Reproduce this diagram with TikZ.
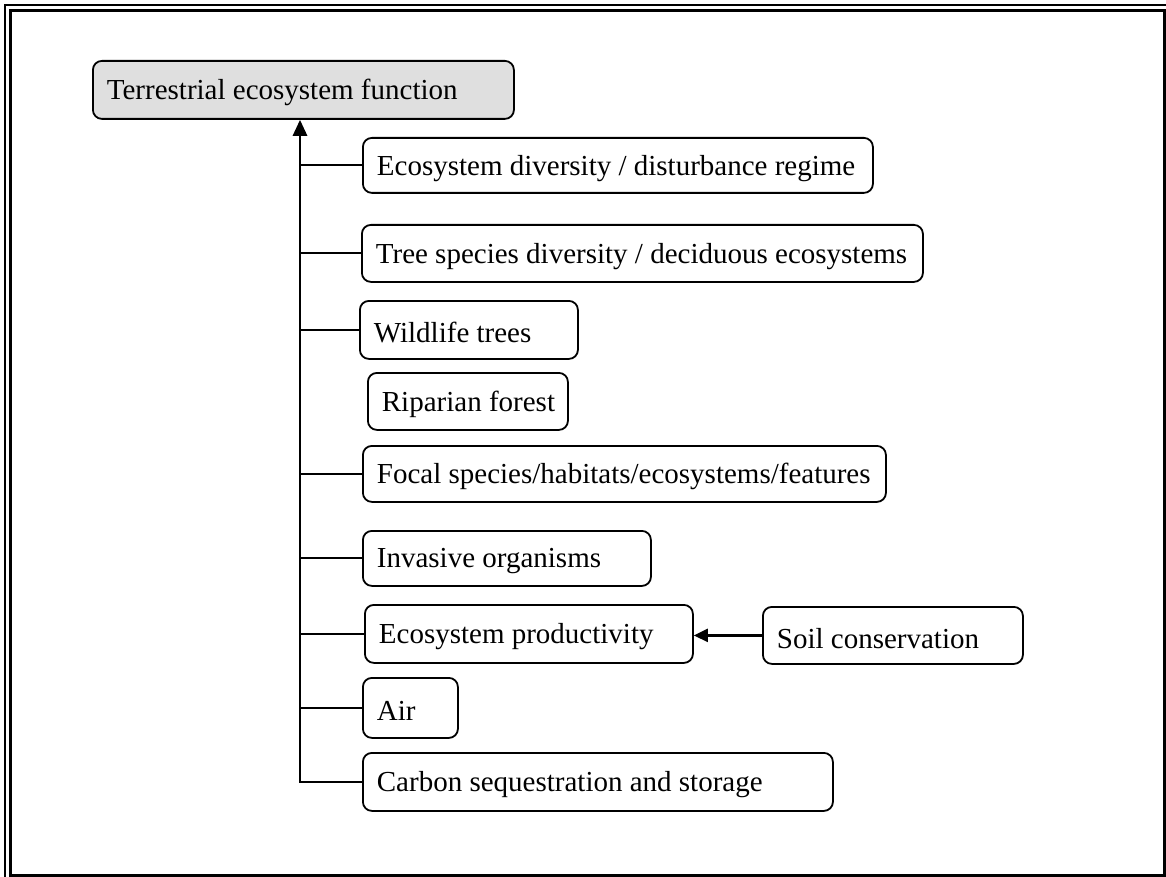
\documentclass[tikz,border=0pt]{standalone}
\usepackage{fontspec}
\setmainfont{Liberation Serif}
\usetikzlibrary{arrows.meta}
\newcommand\lbl[2]{\raisebox{-3pt}[\height][\depth]{\makebox[#1][l]{#2}}}
\begin{document}
\begin{tikzpicture}[x=1pt,y=-1pt,
  box/.style={draw, rounded corners=9pt, line width=1.8pt, anchor=north west,
    inner xsep=14pt, inner ysep=0pt,
    font=\fontsize{29}{34}\selectfont},
  conn/.style={line width=2pt},
  spineline/.style={line width=2.8pt, -{Triangle[length=16pt,width=14pt]}},
  feed/.style={line width=2.2pt, -{Triangle[length=14pt,width=13pt]}}]
\useasboundingbox (0,0) rectangle (1166,877);
% frame
\draw[line width=1.5pt] (5,5) rectangle (1172,883);
\draw[line width=3pt] (10.5,10.5) rectangle (1164.5,875.5);
% nodes
\node[box, fill=gray!25, minimum height=58pt] (top) at (92,60) {\lbl{393pt}{Terrestrial ecosystem function}};
\node[box, minimum height=55pt] (b1) at (362,137) {\lbl{482pt}{Ecosystem diversity / disturbance regime}};
\node[box, minimum height=57pt] (b2) at (361,224) {\lbl{533pt}{Tree species diversity / deciduous ecosystems}};
\node[box, minimum height=58pt] (b3) at (359,300) {\lbl{190pt}{Wildlife trees}};
\node[box, minimum height=57pt] (b4) at (367,372) {\lbl{172pt}{Riparian forest}};
\node[box, minimum height=56pt] (b5) at (362,445) {\lbl{495pt}{Focal species/habitats/ecosystems/features}};
\node[box, minimum height=55pt] (b6) at (362,530) {\lbl{260pt}{Invasive organisms}};
\node[box, minimum height=58pt] (b7) at (364,604) {\lbl{300pt}{Ecosystem productivity}};
\node[box, minimum height=57pt] (soil) at (762,606) {\lbl{232pt}{Soil conservation}};
\node[box, minimum height=60pt] (air) at (362,677) {\lbl{67pt}{Air}};
\node[box, minimum height=58pt] (carbon) at (362,752) {\lbl{442pt}{Carbon sequestration and storage}};
% connectors
\coordinate (spine) at (300,0);
\draw[spineline] (carbon.west) -| (spine |- top.south);
\foreach \n in {b1,b2,b3,b5,b6,b7,air}
  \draw[conn] (\n.west) -- (\n.west -| spine);
\draw[feed] (soil.west) -- (soil.west -| b7.east);
\end{tikzpicture}
\end{document}
